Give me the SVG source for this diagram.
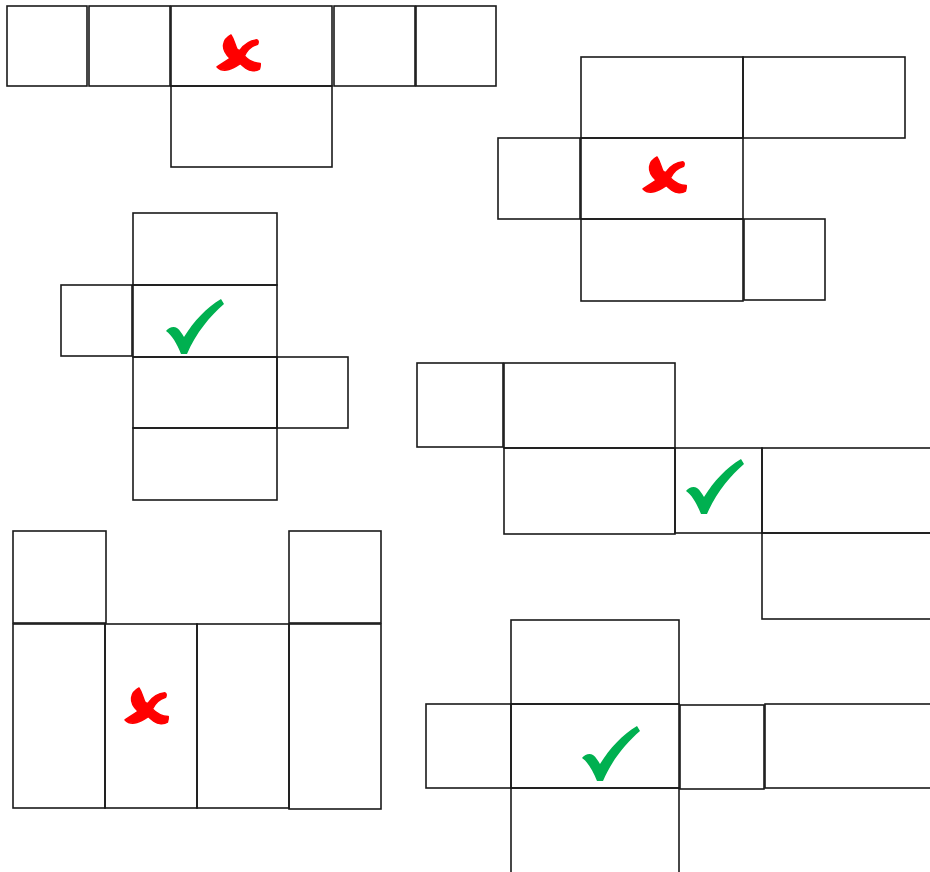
<svg xmlns="http://www.w3.org/2000/svg" width="930" height="872" viewBox="0 0 930 872">
<style>
rect.f{fill:none;stroke:#1a1a1a;stroke-width:1.6}
.cross{fill:#ff0000;stroke:#ff0000;stroke-width:1.4;stroke-linejoin:round}
.check{fill:#00b050}
</style>
<defs>
<path id="xmark" d="M14,0 C17,4 18,9 20,13 C21,14 22,14.5 23,14 C27,9 33,5 40,4.5 C41.5,5 41.5,7 40.7,8.5 C35,10 30,14 27.5,19.5 C31,23 36,26 43.3,26.5 C43.5,28.5 43,30 42.5,31.5 C39,33.8 33,33.5 29,31 C27,29.5 25,28 23.5,26.5 C20,28.5 16,31 12,32 C8,33 3,32.5 0,29.5 C4,27 9,24.5 13,21.5 C9,18 6,13 6.5,9 C7,5 10,2 14,0 Z"/>
<path id="vmark" d="M0,32 C3,28 8,27 11,29 C14,31 16,35 18,38 C28,22 40,9 55,0 L58,5 C44,17 30,34 21,55 L15,55 C11,45 6,36 0,32 Z"/>
</defs>
<rect width="930" height="872" fill="#ffffff"/>

<g id="net1">
<rect class="f" x="7" y="6" width="80" height="80"/>
<rect class="f" x="89" y="6" width="81" height="80"/>
<rect class="f" x="171" y="6" width="161" height="80"/>
<rect class="f" x="334" y="6" width="81" height="80"/>
<rect class="f" x="416" y="6" width="80" height="80"/>
<rect class="f" x="171" y="86" width="161" height="81"/>
<use href="#xmark" class="cross" transform="translate(217,35) scale(1,1.08)"/>
</g>

<g id="net2">
<rect class="f" x="581" y="57" width="162" height="81"/>
<rect class="f" x="743" y="57" width="162" height="81"/>
<rect class="f" x="498" y="138" width="82" height="81"/>
<rect class="f" x="581" y="138" width="162" height="81"/>
<rect class="f" x="581" y="219" width="162" height="82"/>
<rect class="f" x="744" y="219" width="81" height="81"/>
<use href="#xmark" class="cross" transform="translate(643,157) scale(1,1.08)"/>
</g>

<g id="net3">
<rect class="f" x="133" y="213" width="144" height="72"/>
<rect class="f" x="61" y="285" width="71" height="71"/>
<rect class="f" x="133" y="285" width="144" height="72"/>
<rect class="f" x="133" y="357" width="144" height="71"/>
<rect class="f" x="277" y="357" width="71" height="71"/>
<rect class="f" x="133" y="428" width="144" height="72"/>
<use href="#vmark" class="check" transform="translate(166,299)"/>
</g>

<g id="net4">
<rect class="f" x="417" y="363" width="86" height="84"/>
<rect class="f" x="504" y="363" width="171" height="85"/>
<rect class="f" x="504" y="448" width="171" height="86"/>
<rect class="f" x="675" y="448" width="87" height="85"/>
<rect class="f" x="762" y="448" width="180" height="85"/>
<rect class="f" x="762" y="533" width="180" height="86"/>
<use href="#vmark" class="check" transform="translate(686,459)"/>
</g>

<g id="net5">
<rect class="f" x="13" y="531" width="93" height="92"/>
<rect class="f" x="289" y="531" width="92" height="92"/>
<rect class="f" x="13" y="624" width="92" height="184"/>
<rect class="f" x="105" y="624" width="92" height="184"/>
<rect class="f" x="197" y="624" width="92" height="184"/>
<rect class="f" x="289" y="624" width="92" height="185"/>
<use href="#xmark" class="cross" transform="translate(125,688) scale(1,1.08)"/>
</g>

<g id="net6">
<rect class="f" x="511" y="620" width="168" height="84"/>
<rect class="f" x="426" y="704" width="85" height="84"/>
<rect class="f" x="511" y="704" width="168" height="84"/>
<rect class="f" x="680" y="705" width="84" height="84"/>
<rect class="f" x="765" y="704" width="180" height="84"/>
<rect class="f" x="511" y="788" width="168" height="86"/>
<use href="#vmark" class="check" transform="translate(582,726)"/>
</g>
</svg>
